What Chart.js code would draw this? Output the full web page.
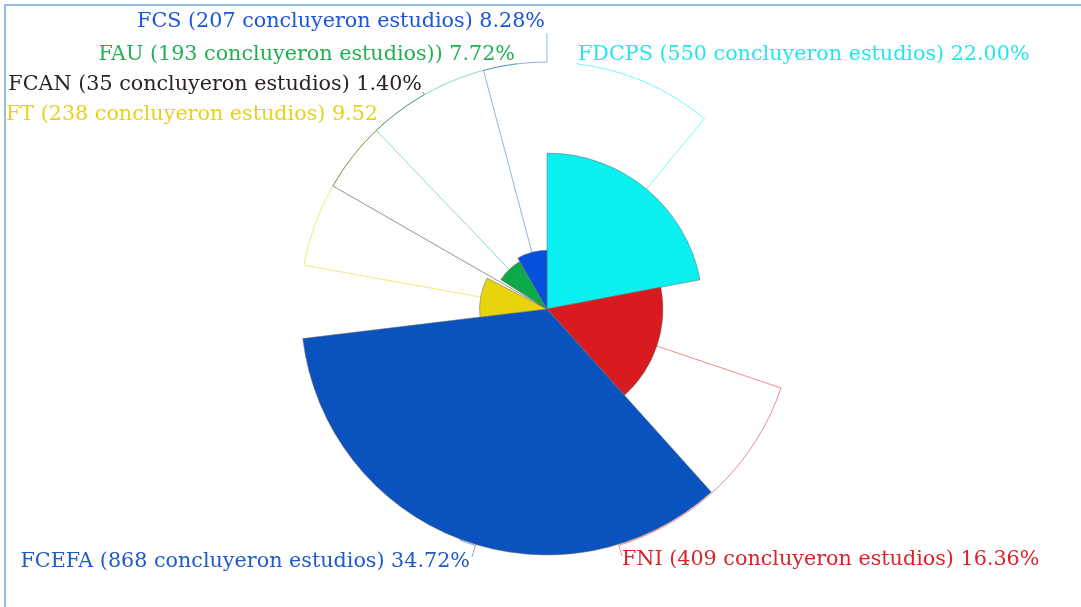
<!DOCTYPE html>
<html>
<head>
<meta charset="utf-8">
<script src="https://cdn.jsdelivr.net/npm/chart.js@4.4.1/dist/chart.umd.min.js"></script>
<style>
  html, body { margin: 0; padding: 0; background: #fff; }
  #wrap { position: relative; width: 1081px; height: 607px; overflow: hidden; }
  #wrap canvas { position: absolute; left: 0; top: 0; }
  #frame { position: absolute; left: 4px; top: 4px; right: 0; bottom: 0; border-left: 2px solid #94bee0; border-top: 2px solid #94bee0; pointer-events: none; }
</style>
</head>
<body>
<div id="wrap">
  <canvas id="facultyChart" width="1081" height="607"></canvas>
  <div id="frame"></div>
</div>
<script>
var faculties = ['FDCPS', 'FNI', 'FCEFA', 'FT', 'FCAN', 'FAU', 'FCS'];
var graduates = [550, 409, 868, 238, 35, 193, 207];
var labelTexts = [
  'FDCPS (550 concluyeron estudios) 22.00%',
  'FNI (409 concluyeron estudios) 16.36%',
  'FCEFA (868 concluyeron estudios) 34.72%',
  'FT (238 concluyeron estudios) 9.52',
  'FCAN (35 concluyeron estudios) 1.40%',
  'FAU (193 concluyeron estudios)) 7.72%',
  'FCS (207 concluyeron estudios) 8.28%'
];

(function () {
  'use strict';

  var sliceColors = ['#0af0f0', '#d81b1f', '#0a53be', '#e8d40c', '#555555', '#0eaa4a', '#0650e0'];
  var textColors = ['#22e6ee', '#d8232a', '#1e5bc6', '#e6d21a', '#2a2222', '#1fb050', '#1a55e0'];
  var lineColors = ['rgba(10,240,240,.55)', 'rgba(216,27,31,.5)', 'rgba(10,83,190,.5)', 'rgba(232,212,12,.55)',
    'rgba(60,60,60,.55)', 'rgba(14,170,74,.45)', 'rgba(6,80,224,.45)'];

  // where each label sits: (x, y) is where the leader line ends
  var labelSpots = [
    { x: 577, y: 63, tx: 578, ty: 55, align: 'left' },
    { x: 622, y: 556, tx: 622, ty: 560, align: 'left' },
    { x: 472, y: 557, tx: 470, ty: 562, align: 'right' },
    { x: 379, y: 120, tx: 378, ty: 115, align: 'right' },
    { x: 423, y: 92, tx: 422, ty: 85, align: 'right' },
    { x: 516, y: 63, tx: 515, ty: 55, align: 'right' },
    { x: 547, y: 33, tx: 545, ty: 22, align: 'right' }
  ];

  var total = graduates.reduce(function (a, b) { return a + b; }, 0);
  var maxValue = Math.max.apply(null, graduates);

  var leaderLabels = {
    id: 'leaderLabels',
    afterDatasetsDraw: function (chart) {
      var ctx = chart.ctx;
      var meta = chart.getDatasetMeta(0);
      var rc = chart.scales.r.drawingArea + 1;
      ctx.save();
      ctx.font = '20.7px "DejaVu Serif"';
      ctx.textBaseline = 'middle';
      meta.data.forEach(function (arc, i) {
        var p = arc.getProps(['x', 'y', 'startAngle', 'endAngle', 'outerRadius'], true);
        var spot = labelSpots[i];
        var a = (p.startAngle + p.endAngle) / 2;
        var b = Math.atan2(spot.y - p.y, spot.x - p.x);
        while (b - a > Math.PI) b -= Math.PI * 2;
        while (a - b > Math.PI) b += Math.PI * 2;
        ctx.beginPath();
        ctx.moveTo(p.x + Math.cos(a) * p.outerRadius, p.y + Math.sin(a) * p.outerRadius);
        ctx.lineTo(p.x + Math.cos(a) * rc, p.y + Math.sin(a) * rc);
        ctx.arc(p.x, p.y, rc, a, b, b < a);
        ctx.lineTo(spot.x, spot.y);
        ctx.strokeStyle = lineColors[i];
        ctx.lineWidth = 1;
        ctx.stroke();
        ctx.fillStyle = textColors[i];
        ctx.textAlign = spot.align;
        ctx.fillText(labelTexts[i], spot.tx, spot.ty);
      });
      ctx.restore();
    }
  };

  new Chart(document.getElementById('facultyChart'), {
    type: 'polarArea',
    data: {
      labels: faculties,
      datasets: [{
        data: graduates,
        angle: function (c) { return graduates[c.dataIndex] / total * 360; },
        backgroundColor: sliceColors,
        borderColor: 'rgba(110,110,110,.55)',
        borderWidth: 1
      }]
    },
    options: {
      responsive: false,
      animation: false,
      devicePixelRatio: 1,
      layout: { padding: { left: 247, right: 234, top: 63, bottom: 52 } },
      scales: { r: { display: false, min: 0, max: maxValue } },
      plugins: { legend: { display: false }, tooltip: { enabled: false } }
    },
    plugins: [leaderLabels]
  });
})();
</script>
</body>
</html>
